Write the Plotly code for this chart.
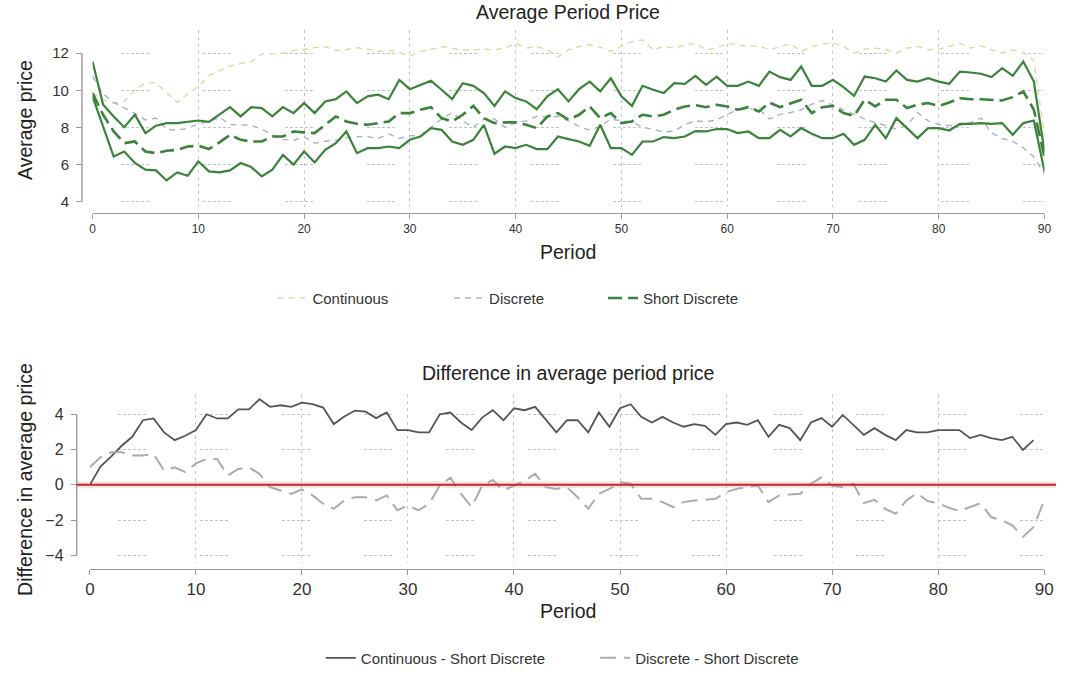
import plotly.graph_objects as go

# ---------------------------------------------------------------- data
periods = list(range(0, 91))

continuous = [9.85, 9.5, 9.3, 9.4, 10.0, 10.4, 10.4, 9.85, 9.35, 9.8,
              10.2, 10.8, 11.05, 11.3, 11.45, 11.55, 11.95, 11.95, 12.0, 12.15,
              12.2, 12.3, 12.35, 12.15, 12.2, 12.3, 12.22, 12.1, 12.15, 12.05,
              11.85, 12.1, 12.2, 12.36, 12.27, 12.18, 12.18, 12.22, 12.18, 12.27,
              12.54, 12.27, 12.36, 12.18, 11.8, 12.18, 12.36, 12.45, 12.32, 12.1,
              12.36, 12.63, 12.72, 12.18, 12.36, 12.27, 12.45, 12.54, 12.18, 12.27,
              12.54, 12.45, 12.36, 12.4, 12.18, 12.36, 12.5, 12.1, 12.36, 12.5,
              12.54, 12.36, 12.0, 12.22, 12.27, 12.18, 12.0, 12.27, 12.36, 12.18,
              12.22, 12.36, 12.54, 12.27, 12.4, 12.18, 12.0, 12.18, 12.05, 11.6,
              7.5]

discrete = [10.75, 9.8, 9.35, 9.05, 8.75, 8.4, 8.5, 7.9, 7.85, 7.95,
            8.2, 8.3, 8.55, 8.15, 8.15, 8.1, 7.9, 7.6, 7.35, 7.3,
            7.5, 7.15, 7.25, 7.3, 7.45, 7.5, 7.5, 7.4, 7.65, 7.4,
            7.55, 7.55, 8.0, 8.45, 8.8, 8.35, 8.0, 8.45, 8.45, 8.0,
            8.25, 8.35, 8.6, 8.55, 8.6, 8.35, 8.05, 7.85, 8.05, 8.45,
            8.35, 8.3, 8.0, 7.9, 7.75, 7.8, 8.15, 8.35, 8.3, 8.4,
            8.7, 8.95, 9.0, 9.0, 8.45, 8.7, 8.8, 8.95, 9.25, 9.45,
            9.2, 8.95, 8.7, 8.45, 8.25, 8.1, 7.9, 8.1, 8.8, 8.35,
            8.15, 8.1, 8.1, 8.25, 8.5, 7.7, 7.4, 7.25, 6.9, 6.4,
            5.5]

short_discrete = [9.85, 8.68, 7.78, 7.15, 7.24, 6.70, 6.61, 6.74, 6.79, 6.97,
                  7.01, 6.83, 7.19, 7.60, 7.33, 7.24, 7.24, 7.51, 7.51, 7.78,
                  7.73, 7.69, 8.14, 8.59, 8.32, 8.2, 8.14, 8.23, 8.32, 8.77,
                  8.77, 8.95, 9.09, 8.50, 8.32, 8.68, 9.16, 8.50, 8.23, 8.27,
                  8.27, 8.14, 7.96, 8.59, 8.77, 8.41, 8.68, 9.13, 8.50, 8.77,
                  8.23, 8.32, 8.68, 8.59, 8.68, 8.95, 9.13, 9.2, 9.09, 9.22,
                  9.13, 8.95, 9.09, 8.86, 9.34, 9.09, 9.31, 9.49, 8.77, 9.09,
                  9.16, 8.77, 8.62, 9.49, 9.13, 9.49, 9.49, 9.04, 9.22, 9.31,
                  9.16, 9.34, 9.58, 9.52, 9.52, 9.49, 9.45, 9.63, 9.94, 8.95,
                  6.4]

short_upper = [11.55, 9.22, 8.59, 8.01, 8.68, 7.69, 8.09, 8.23, 8.23, 8.32,
               8.37, 8.3, 8.68, 9.09, 8.59, 9.09, 9.04, 8.59, 9.09, 8.77,
               9.31, 8.77, 9.4, 9.52, 9.94, 9.31, 9.67, 9.76, 9.52, 10.56,
               10.06, 10.29, 10.51, 10.03, 9.52, 10.38, 10.24, 9.85, 9.16, 9.94,
               9.58, 9.40, 8.98, 9.67, 10.06, 9.40, 10.06, 10.47, 9.94, 10.65,
               9.67, 9.16, 10.24, 10.03, 9.85, 10.38, 10.35, 10.78, 10.29, 10.74,
               10.24, 10.24, 10.47, 10.24, 11.01, 10.71, 10.56, 11.28, 10.24, 10.24,
               10.56, 10.17, 9.70, 10.74, 10.65, 10.47, 11.07, 10.56, 10.47, 10.65,
               10.47, 10.35, 11.01, 10.96, 10.89, 10.71, 11.19, 10.78, 11.55, 10.47,
               6.7]

short_lower = [9.67, 8.05, 6.43, 6.70, 6.08, 5.72, 5.68, 5.14, 5.57, 5.39,
               6.17, 5.63, 5.57, 5.68, 6.08, 5.86, 5.36, 5.72, 6.52, 5.99,
               6.70, 6.11, 6.79, 7.15, 7.78, 6.61, 6.88, 6.88, 6.97, 6.88,
               7.33, 7.51, 7.96, 7.87, 7.24, 7.06, 7.33, 8.14, 6.58, 6.97,
               6.88, 7.06, 6.83, 6.83, 7.51, 7.37, 7.24, 7.01, 8.14, 6.88,
               6.88, 6.52, 7.24, 7.24, 7.48, 7.42, 7.51, 7.8, 7.78, 7.91,
               7.91, 7.69, 7.78, 7.42, 7.42, 7.87, 7.51, 7.96, 7.66, 7.42,
               7.42, 7.66, 7.06, 7.33, 8.14, 7.42, 8.50, 7.96, 7.42, 7.96,
               7.96, 7.83, 8.19, 8.19, 8.23, 8.19, 8.23, 7.60, 8.23, 8.37,
               5.63]

diff_continuous = [0.0, 1.04, 1.6, 2.22, 2.73, 3.67, 3.77, 2.98, 2.54, 2.79,
                   3.11, 4.01, 3.77, 3.77, 4.29, 4.29, 4.86, 4.43, 4.52, 4.43,
                   4.67, 4.58, 4.39, 3.45, 3.88, 4.22, 4.16, 3.79, 4.11, 3.11,
                   3.11, 2.98, 2.98, 4.01, 4.11, 3.54, 3.11, 3.82, 4.24, 3.67,
                   4.35, 4.24, 4.43, 3.73, 2.98, 3.67, 3.67, 2.98, 4.11, 3.30,
                   4.35, 4.58, 3.86, 3.54, 3.86, 3.54, 3.30, 3.45, 3.35, 2.84,
                   3.45, 3.54, 3.41, 3.67, 2.73, 3.41, 3.22, 2.54, 3.54, 3.79,
                   3.30, 3.97, 3.41, 2.84, 3.22, 2.84, 2.54, 3.11, 2.98, 2.98,
                   3.11, 3.11, 3.11, 2.66, 2.84, 2.66, 2.54, 2.73, 1.98, 2.54]

diff_discrete = [1.0, 1.56, 1.85, 1.85, 1.66, 1.66, 1.75, 0.81, 1.0, 0.72,
                 1.22, 1.47, 1.47, 0.53, 0.9, 1.0, 0.62, -0.13, -0.32, -0.51,
                 -0.26, -0.6, -1.07, -1.36, -0.89, -0.70, -0.70, -0.89, -0.6, -1.45,
                 -1.17, -1.45, -1.07, -0.04, 0.4, -0.51, -1.26, -0.04, 0.28, -0.32,
                 -0.04, 0.24, 0.62, -0.13, -0.23, -0.13, -0.70, -1.36, -0.51, -0.23,
                 0.15, 0.06, -0.79, -0.79, -0.98, -1.26, -0.98, -0.89, -0.85, -0.79,
                 -0.41, -0.23, -0.13, -0.04, -0.98, -0.6, -0.55, -0.51, 0.06, 0.43,
                 -0.04, -0.13, 0.06, -1.04, -0.85, -1.36, -1.64, -0.89, -0.47, -0.92,
                 -1.04, -1.30, -1.49, -1.26, -1.04, -1.83, -2.02, -2.30, -2.96, -2.39,
                 -0.89]

period_ticks = list(range(0, 91, 10))
price_ticks = [4, 6, 8, 10, 12]
diff_ticks = [-4, -2, 0, 2, 4]

# ---------------------------------------------------------------- style
W, H = 1065, 675
FONT = "Liberation Sans, Arial, Helvetica, sans-serif"
TXT = "#333333"
AX = "#9a9a9a"
GRID = "#c4c4c4"
GREEN = "#3b823b"
C_CONT = "#dcd6a2"
C_DISC = "#a9b3c8"

def px_x(p):
    return p / W

def px_y(p):
    return 1 - p / H

hgrid_dash = "0px,28px,3px,2px,3px,2px,3px,2px,3px,2px,3px,2px,3px,26px"
vgrid_dash = "3px,4px"

fig = go.Figure()

# ---------------------------------------------------------------- top panel
fig.add_trace(go.Scatter(x=periods, y=continuous, mode="lines", name="Continuous",
                         line=dict(color=C_CONT, width=1.3, dash="6px,5px"),
                         xaxis="x", yaxis="y", legend="legend"))
fig.add_trace(go.Scatter(x=periods, y=discrete, mode="lines", name="Discrete",
                         line=dict(color=C_DISC, width=1.4, dash="6px,5px"),
                         xaxis="x", yaxis="y", legend="legend2"))
fig.add_trace(go.Scatter(x=periods, y=short_upper, mode="lines", showlegend=False,
                         line=dict(color=GREEN, width=2.2),
                         xaxis="x", yaxis="y"))
fig.add_trace(go.Scatter(x=periods, y=short_lower, mode="lines", showlegend=False,
                         line=dict(color=GREEN, width=2.2),
                         xaxis="x", yaxis="y"))
fig.add_trace(go.Scatter(x=periods, y=short_discrete, mode="lines", name="Short Discrete",
                         line=dict(color=GREEN, width=2.6, dash="14px,6px"),
                         xaxis="x", yaxis="y", legend="legend3"))

# ---------------------------------------------------------------- bottom panel
fig.add_trace(go.Scatter(x=periods[:len(diff_continuous)], y=diff_continuous, mode="lines",
                         name="Continuous - Short Discrete",
                         line=dict(color="#555555", width=1.8),
                         xaxis="x2", yaxis="y2", legend="legend4"))
fig.add_trace(go.Scatter(x=periods[:len(diff_discrete)], y=diff_discrete, mode="lines",
                         name="Discrete - Short Discrete",
                         line=dict(color="#ababab", width=2.0, dash="16px,8px"),
                         xaxis="x2", yaxis="y2", legend="legend5"))

# ---------------------------------------------------------------- axes
common_axis = dict(showline=False, zeroline=False, ticks="outside", tickcolor=AX,
                   tickwidth=1.2, showgrid=True, gridcolor=GRID, gridwidth=1,
                   fixedrange=True)

top_y_axis_px = 78
bot_y_axis_px = 72.7

fig.update_layout(
    xaxis=dict(common_axis, domain=[px_x(88.7), px_x(1053.3)], range=[0, 90],
               anchor="free", position=px_y(214), tickvals=period_ticks,
               showline=True, linecolor=AX, linewidth=1.4, ticklen=5,
               griddash=vgrid_dash, tickfont=dict(family=FONT, size=12, color=TXT)),
    yaxis=dict(common_axis, domain=[px_y(208), px_y(30)], range=[3.72, 13.26],
               anchor="free", position=px_x(top_y_axis_px), tickvals=price_ticks,
               ticklen=6, griddash=hgrid_dash, ticklabelstandoff=4,
               tickfont=dict(family=FONT, size=15, color=TXT)),
    xaxis2=dict(common_axis, domain=[px_x(86), px_x(1053)], range=[0, 90],
                anchor="free", position=px_y(572), tickvals=period_ticks,
                showline=True, linecolor=AX, linewidth=1.4, ticklen=5,
                griddash=vgrid_dash, tickfont=dict(family=FONT, size=17, color=TXT)),
    yaxis2=dict(common_axis, domain=[px_y(566), px_y(396)], range=[-4.42, 5.18],
                anchor="free", position=px_x(bot_y_axis_px), tickvals=diff_ticks,
                ticklen=6, griddash=hgrid_dash, ticklabelstandoff=4,
                tickfont=dict(family=FONT, size=16, color=TXT)),
)

# ---------------------------------------------------------------- axis lines + reference line
shapes = [
    dict(type="line", xref="paper", yref="y", x0=px_x(top_y_axis_px), x1=px_x(top_y_axis_px),
         y0=price_ticks[0], y1=price_ticks[-1], line=dict(color=AX, width=1.4)),
    dict(type="line", xref="paper", yref="y2", x0=px_x(bot_y_axis_px), x1=px_x(bot_y_axis_px),
         y0=diff_ticks[0], y1=diff_ticks[-1], line=dict(color=AX, width=1.4)),
    dict(type="line", xref="paper", yref="y2", x0=px_x(bot_y_axis_px), x1=1,
         y0=0, y1=0, layer="below", line=dict(color="rgba(225,110,110,0.18)", width=7)),
    dict(type="line", xref="paper", yref="y2", x0=px_x(bot_y_axis_px), x1=1,
         y0=0, y1=0, line=dict(color="#c4262b", width=2)),
]

# ---------------------------------------------------------------- titles
def label(text, x, y, size=19.5, angle=0):
    return dict(text=text, x=px_x(x), y=px_y(y), xref="paper", yref="paper",
                xanchor="center", yanchor="middle", showarrow=False, textangle=angle,
                font=dict(family=FONT, size=size, color="#222222"))

annotations = [
    label("Average Period Price", 570, 12),
    label("Average price", 21, 121, angle=-90),
    label("Period", 571, 254),
    label("Difference in average period price", 570, 375),
    label("Difference in average price", 20, 482, angle=-90),
    label("Period", 571, 615),
]

# ---------------------------------------------------------------- legends
def legend_at(text_left_px, y_px):
    return dict(orientation="h", x=px_x(text_left_px - 42), y=px_y(y_px),
                xanchor="left", yanchor="middle", bgcolor="rgba(0,0,0,0)",
                borderwidth=0, itemwidth=30, tracegroupgap=0,
                font=dict(family=FONT, size=15, color=TXT))

fig.update_layout(
    width=W, height=H, autosize=False,
    margin=dict(l=0, r=0, t=0, b=0),
    paper_bgcolor="white", plot_bgcolor="white",
    shapes=shapes, annotations=annotations,
    legend=legend_at(313, 300),
    legend2=legend_at(492, 300),
    legend3=legend_at(648, 300),
    legend4=legend_at(362, 662),
    legend5=legend_at(640, 662),
    hovermode=False,
)

fig.write_html("out.html", config={"displayModeBar": False})
